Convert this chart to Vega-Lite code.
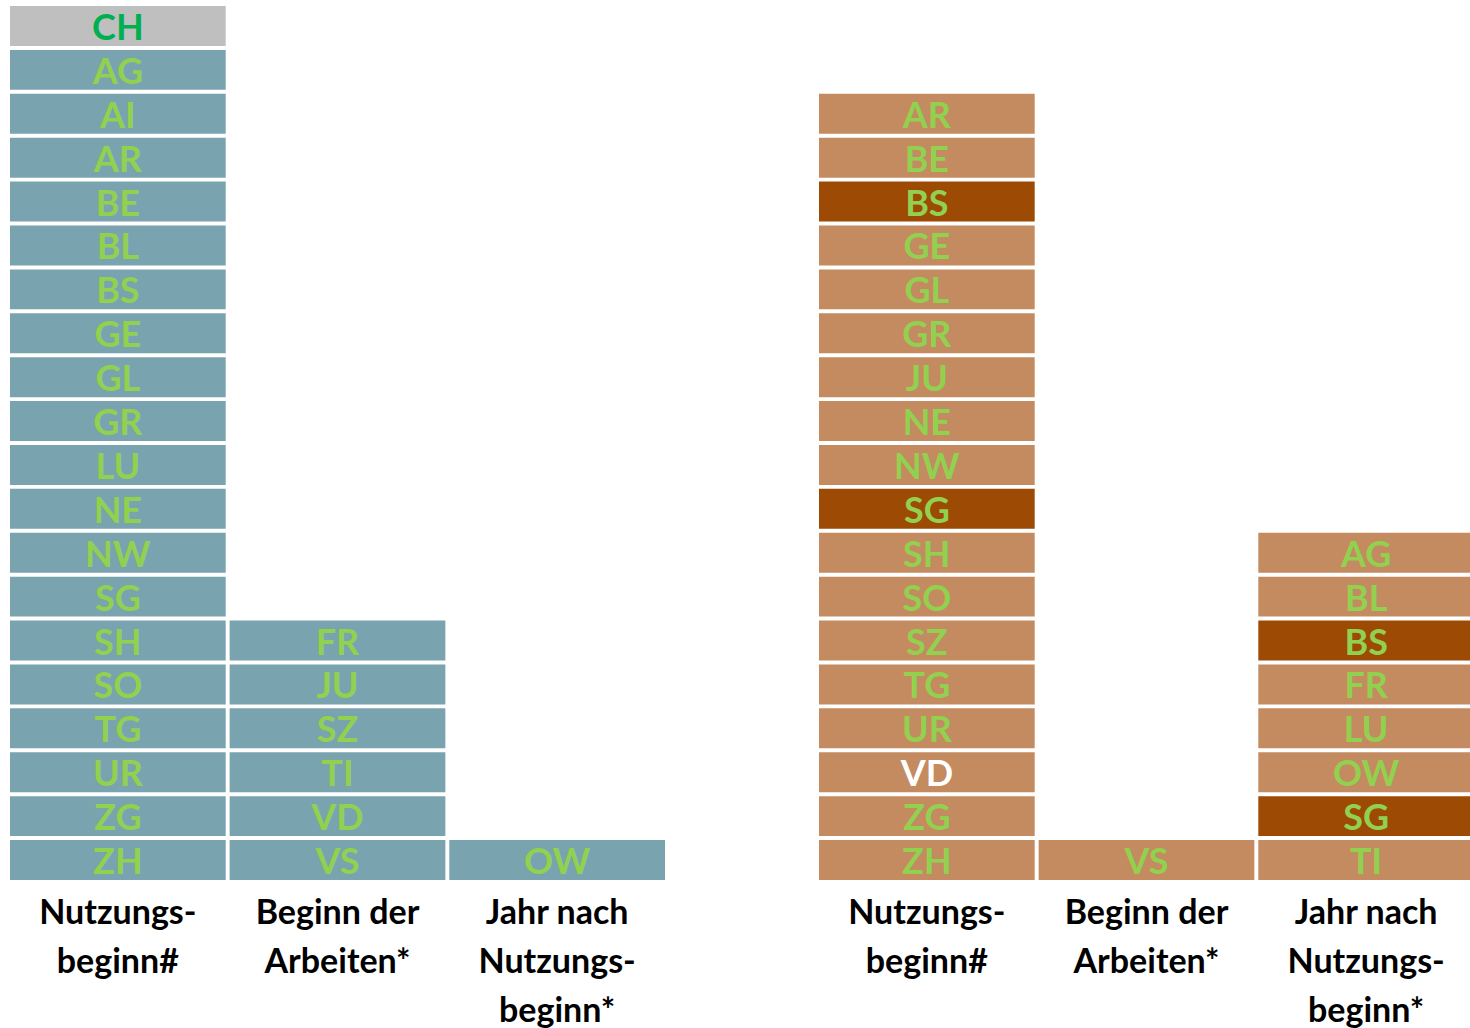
{
  "$schema": "https://vega.github.io/schema/vega-lite/v6.json",
  "padding": {"left": 10, "top": 6, "right": 0, "bottom": 0},
  "background": "white",
  "config": {"view": {"stroke": null}, "font": "Lato"},
  "data": {"values": [
    {"panel": "A", "col": "Nutzungs-|beginn#", "canton": "CH", "order": 1, "status": "total"},
    {"panel": "A", "col": "Nutzungs-|beginn#", "canton": "AG", "order": 2, "status": "normal"},
    {"panel": "A", "col": "Nutzungs-|beginn#", "canton": "AI", "order": 3, "status": "normal"},
    {"panel": "A", "col": "Nutzungs-|beginn#", "canton": "AR", "order": 4, "status": "normal"},
    {"panel": "A", "col": "Nutzungs-|beginn#", "canton": "BE", "order": 5, "status": "normal"},
    {"panel": "A", "col": "Nutzungs-|beginn#", "canton": "BL", "order": 6, "status": "normal"},
    {"panel": "A", "col": "Nutzungs-|beginn#", "canton": "BS", "order": 7, "status": "normal"},
    {"panel": "A", "col": "Nutzungs-|beginn#", "canton": "GE", "order": 8, "status": "normal"},
    {"panel": "A", "col": "Nutzungs-|beginn#", "canton": "GL", "order": 9, "status": "normal"},
    {"panel": "A", "col": "Nutzungs-|beginn#", "canton": "GR", "order": 10, "status": "normal"},
    {"panel": "A", "col": "Nutzungs-|beginn#", "canton": "LU", "order": 11, "status": "normal"},
    {"panel": "A", "col": "Nutzungs-|beginn#", "canton": "NE", "order": 12, "status": "normal"},
    {"panel": "A", "col": "Nutzungs-|beginn#", "canton": "NW", "order": 13, "status": "normal"},
    {"panel": "A", "col": "Nutzungs-|beginn#", "canton": "SG", "order": 14, "status": "normal"},
    {"panel": "A", "col": "Nutzungs-|beginn#", "canton": "SH", "order": 15, "status": "normal"},
    {"panel": "A", "col": "Nutzungs-|beginn#", "canton": "SO", "order": 16, "status": "normal"},
    {"panel": "A", "col": "Nutzungs-|beginn#", "canton": "TG", "order": 17, "status": "normal"},
    {"panel": "A", "col": "Nutzungs-|beginn#", "canton": "UR", "order": 18, "status": "normal"},
    {"panel": "A", "col": "Nutzungs-|beginn#", "canton": "ZG", "order": 19, "status": "normal"},
    {"panel": "A", "col": "Nutzungs-|beginn#", "canton": "ZH", "order": 20, "status": "normal"},
    {"panel": "A", "col": "Beginn der|Arbeiten*", "canton": "FR", "order": 1, "status": "normal"},
    {"panel": "A", "col": "Beginn der|Arbeiten*", "canton": "JU", "order": 2, "status": "normal"},
    {"panel": "A", "col": "Beginn der|Arbeiten*", "canton": "SZ", "order": 3, "status": "normal"},
    {"panel": "A", "col": "Beginn der|Arbeiten*", "canton": "TI", "order": 4, "status": "normal"},
    {"panel": "A", "col": "Beginn der|Arbeiten*", "canton": "VD", "order": 5, "status": "normal"},
    {"panel": "A", "col": "Beginn der|Arbeiten*", "canton": "VS", "order": 6, "status": "normal"},
    {"panel": "A", "col": "Jahr nach|Nutzungs-|beginn*", "canton": "OW", "order": 1, "status": "normal"},
    {"panel": "B", "col": "Nutzungs-|beginn#", "canton": "AR", "order": 1, "status": "normal"},
    {"panel": "B", "col": "Nutzungs-|beginn#", "canton": "BE", "order": 2, "status": "normal"},
    {"panel": "B", "col": "Nutzungs-|beginn#", "canton": "BS", "order": 3, "status": "highlight"},
    {"panel": "B", "col": "Nutzungs-|beginn#", "canton": "GE", "order": 4, "status": "normal"},
    {"panel": "B", "col": "Nutzungs-|beginn#", "canton": "GL", "order": 5, "status": "normal"},
    {"panel": "B", "col": "Nutzungs-|beginn#", "canton": "GR", "order": 6, "status": "normal"},
    {"panel": "B", "col": "Nutzungs-|beginn#", "canton": "JU", "order": 7, "status": "normal"},
    {"panel": "B", "col": "Nutzungs-|beginn#", "canton": "NE", "order": 8, "status": "normal"},
    {"panel": "B", "col": "Nutzungs-|beginn#", "canton": "NW", "order": 9, "status": "normal"},
    {"panel": "B", "col": "Nutzungs-|beginn#", "canton": "SG", "order": 10, "status": "highlight"},
    {"panel": "B", "col": "Nutzungs-|beginn#", "canton": "SH", "order": 11, "status": "normal"},
    {"panel": "B", "col": "Nutzungs-|beginn#", "canton": "SO", "order": 12, "status": "normal"},
    {"panel": "B", "col": "Nutzungs-|beginn#", "canton": "SZ", "order": 13, "status": "normal"},
    {"panel": "B", "col": "Nutzungs-|beginn#", "canton": "TG", "order": 14, "status": "normal"},
    {"panel": "B", "col": "Nutzungs-|beginn#", "canton": "UR", "order": 15, "status": "normal"},
    {"panel": "B", "col": "Nutzungs-|beginn#", "canton": "VD", "order": 16, "status": "white"},
    {"panel": "B", "col": "Nutzungs-|beginn#", "canton": "ZG", "order": 17, "status": "normal"},
    {"panel": "B", "col": "Nutzungs-|beginn#", "canton": "ZH", "order": 18, "status": "normal"},
    {"panel": "B", "col": "Beginn der|Arbeiten*", "canton": "VS", "order": 1, "status": "normal"},
    {"panel": "B", "col": "Jahr nach|Nutzungs-|beginn*", "canton": "AG", "order": 1, "status": "normal"},
    {"panel": "B", "col": "Jahr nach|Nutzungs-|beginn*", "canton": "BL", "order": 2, "status": "normal"},
    {"panel": "B", "col": "Jahr nach|Nutzungs-|beginn*", "canton": "BS", "order": 3, "status": "highlight"},
    {"panel": "B", "col": "Jahr nach|Nutzungs-|beginn*", "canton": "FR", "order": 4, "status": "normal"},
    {"panel": "B", "col": "Jahr nach|Nutzungs-|beginn*", "canton": "LU", "order": 5, "status": "normal"},
    {"panel": "B", "col": "Jahr nach|Nutzungs-|beginn*", "canton": "OW", "order": 6, "status": "normal"},
    {"panel": "B", "col": "Jahr nach|Nutzungs-|beginn*", "canton": "SG", "order": 7, "status": "highlight"},
    {"panel": "B", "col": "Jahr nach|Nutzungs-|beginn*", "canton": "TI", "order": 8, "status": "normal"}
  ]},
  "transform": [
    {"window": [{"op": "row_number", "as": "slot"}], "groupby": ["panel", "col"], "sort": [{"field": "order", "order": "descending"}]}
  ],
  "facet": {"column": {"field": "panel", "type": "nominal", "header": null}},
  "spacing": 154,
  "spec": {
    "width": 655,
    "height": 874,
    "encoding": {
      "x": {
        "field": "col", "type": "nominal",
        "sort": ["Nutzungs-|beginn#", "Beginn der|Arbeiten*", "Jahr nach|Nutzungs-|beginn*"],
        "scale": {"paddingInner": 0.018, "paddingOuter": 0},
        "axis": {
          "title": null, "domain": false, "ticks": false, "labelAngle": 0,
          "labelExpr": "split(datum.value, '|')",
          "labelFont": "Lato", "labelFontSize": 34, "labelFontWeight": "bold", "labelColor": "black",
          "labelLineHeight": 49, "labelPadding": 14, "labelLimit": 400, "labelOverlap": false
        }
      },
      "y": {
        "field": "slot", "type": "ordinal",
        "scale": {"domain": [20,19,18,17,16,15,14,13,12,11,10,9,8,7,6,5,4,3,2,1], "paddingInner": 0.09, "paddingOuter": 0},
        "axis": null
      }
    },
    "layer": [
      {
        "mark": {"type": "rect"},
        "encoding": {
          "fill": {
            "condition": [
              {"test": "datum.status === 'total'", "value": "#BFBFBF"},
              {"test": "datum.status === 'highlight'", "value": "#9C4A04"},
              {"test": "datum.panel === 'B'", "value": "#C48B60"}
            ],
            "value": "#7AA3B0"
          }
        }
      },
      {
        "mark": {"type": "text", "font": "Lato", "fontSize": 36, "fontWeight": "bold", "baseline": "middle", "align": "center", "dy": 3},
        "encoding": {
          "text": {"field": "canton"},
          "color": {
            "condition": [
              {"test": "datum.status === 'total'", "value": "#00B050"},
              {"test": "datum.status === 'white'", "value": "#FFFFFF"}
            ],
            "value": "#92D050"
          }
        }
      }
    ]
  }
}
